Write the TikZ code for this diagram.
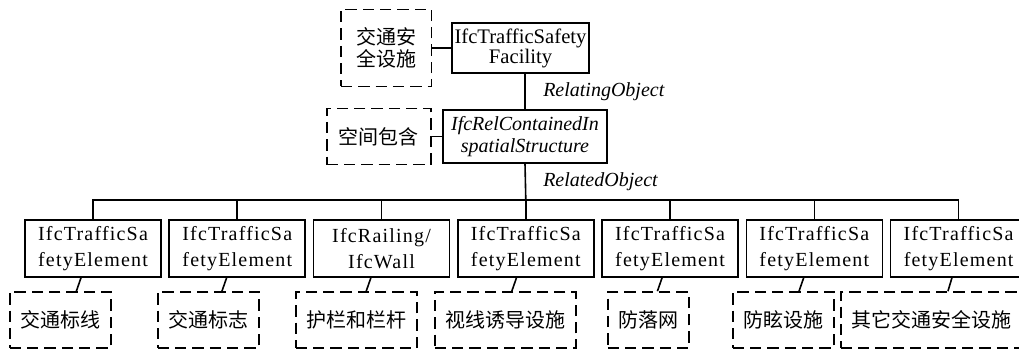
\documentclass[tikz,border=0pt]{standalone}
\usepackage{fontspec}
\setmainfont{Liberation Serif}
\newfontfamily\cjk{Noto Sans CJK SC}
\usetikzlibrary{positioning}
\tikzstyle{block} = [rectangle, draw, line width=1.2pt, align=center,
                inner xsep=2pt, inner ysep=0pt, font=\fontsize{15.5}{15}\selectfont]
\tikzstyle{elem} = [block, text width=98pt, minimum height=42.75pt,
                font=\fontsize{15}{19.5}\selectfont\addfontfeature{LetterSpace=6}]
\tikzstyle{note} = [rectangle, draw, dash pattern=on 8.5pt off 4.5pt, line width=1.2pt,
                align=center, inner xsep=8pt, minimum height=42pt,
                font=\cjk\fontsize{15}{16}\selectfont]
\tikzstyle{line} = [draw, line width=1.2pt]
\tikzstyle{role} = [anchor=west, inner sep=0pt, font=\itshape\fontsize{15}{15}\selectfont]

\begin{document}
\begin{tikzpicture}[x=0.75pt,y=-0.75pt]
            \useasboundingbox (0,0) rectangle (1019,349);
            \node[block, minimum width=101pt, minimum height=37.5pt](fac) at (520.5,48){IfcTrafficSafety\\Facility};
            \node[block, minimum width=123pt, minimum height=39.75pt, font=\itshape\fontsize{15}{17}\selectfont](rel) at (525,136.5){IfcRelContainedIn\\spatialStructure};
            \node[note, left=14pt of fac, minimum width=68pt, minimum height=57.75pt](fd){交通安\\全设施};
            \node[note, left=8pt of rel, minimum width=78pt](rd){空间包含};
            \node[role](relating) at (543,92){RelatingObject};
            \node[role](related) at (543,182){RelatedObject};
            \node[elem](e1) at (93,248.5){IfcTrafficSa\\fetyElement};
            \node[elem, right=5pt of e1](e2){IfcTrafficSa\\fetyElement};
            \node[elem, right=5pt of e2](e3){IfcRailing/\\IfcWall};
            \node[elem, right=5pt of e3](e4){IfcTrafficSa\\fetyElement};
            \node[elem, right=5pt of e4](e5){IfcTrafficSa\\fetyElement};
            \node[elem, right=5pt of e5](e6){IfcTrafficSa\\fetyElement};
            \node[elem, right=5pt of e6](e7){IfcTrafficSa\\fetyElement};
            \node[note, anchor=west](d1) at (9,320){交通标线};
            \node[note, anchor=west](d2) at (157,320){交通标志};
            \node[note, anchor=west](d3) at (295,320){护栏和栏杆};
            \node[note, anchor=west](d4) at (434,320){视线诱导设施};
            \node[note, anchor=west](d5) at (607,320){防落网};
            \node[note, anchor=west](d6) at (732,320){防眩设施};
            \node[note, anchor=west](d7) at (840,320){其它交通安全设施};
            \coordinate (bus) at (e4.north |- 0,200);
            \path[line] (fd) -- (fac);
            \path[line] (rd) -- (rel);
            \path[line] (fac.south -| rel.north) -- (rel.north);
            \path[line] (rel.south) -- (bus);
            \path[line] (e1.north) |- (bus) -| (e7.north);
            \path[line] (e2.north) -- (e2.north |- bus);
            \path[line] (e3.north) -- (e3.north |- bus);
            \path[line] (e4.north) -- (bus);
            \path[line] (e5.north) -- (e5.north |- bus);
            \path[line] (e6.north) -- (e6.north |- bus);
            \path[line] ([xshift=-9pt]e1.south) -- ([xshift=-12.5pt]e1.south |- d1.north);
            \path[line] ([xshift=-8pt]e2.south) -- ([xshift=-11.5pt]e2.south |- d2.north);
            \path[line] ([xshift=-8pt]e3.south) -- ([xshift=-11.5pt]e3.south |- d3.north);
            \path[line] ([xshift=-7pt]e4.south) -- ([xshift=-10.5pt]e4.south |- d4.north);
            \path[line] ([xshift=-6pt]e5.south) -- ([xshift=-9.5pt]e5.south |- d5.north);
            \path[line] ([xshift=-8pt]e6.south) -- ([xshift=-11.5pt]e6.south |- d6.north);
            \path[line] ([xshift=-5pt]e7.south) -- ([xshift=-8pt]e7.south |- d7.north);
        \end{tikzpicture}
\end{document}
